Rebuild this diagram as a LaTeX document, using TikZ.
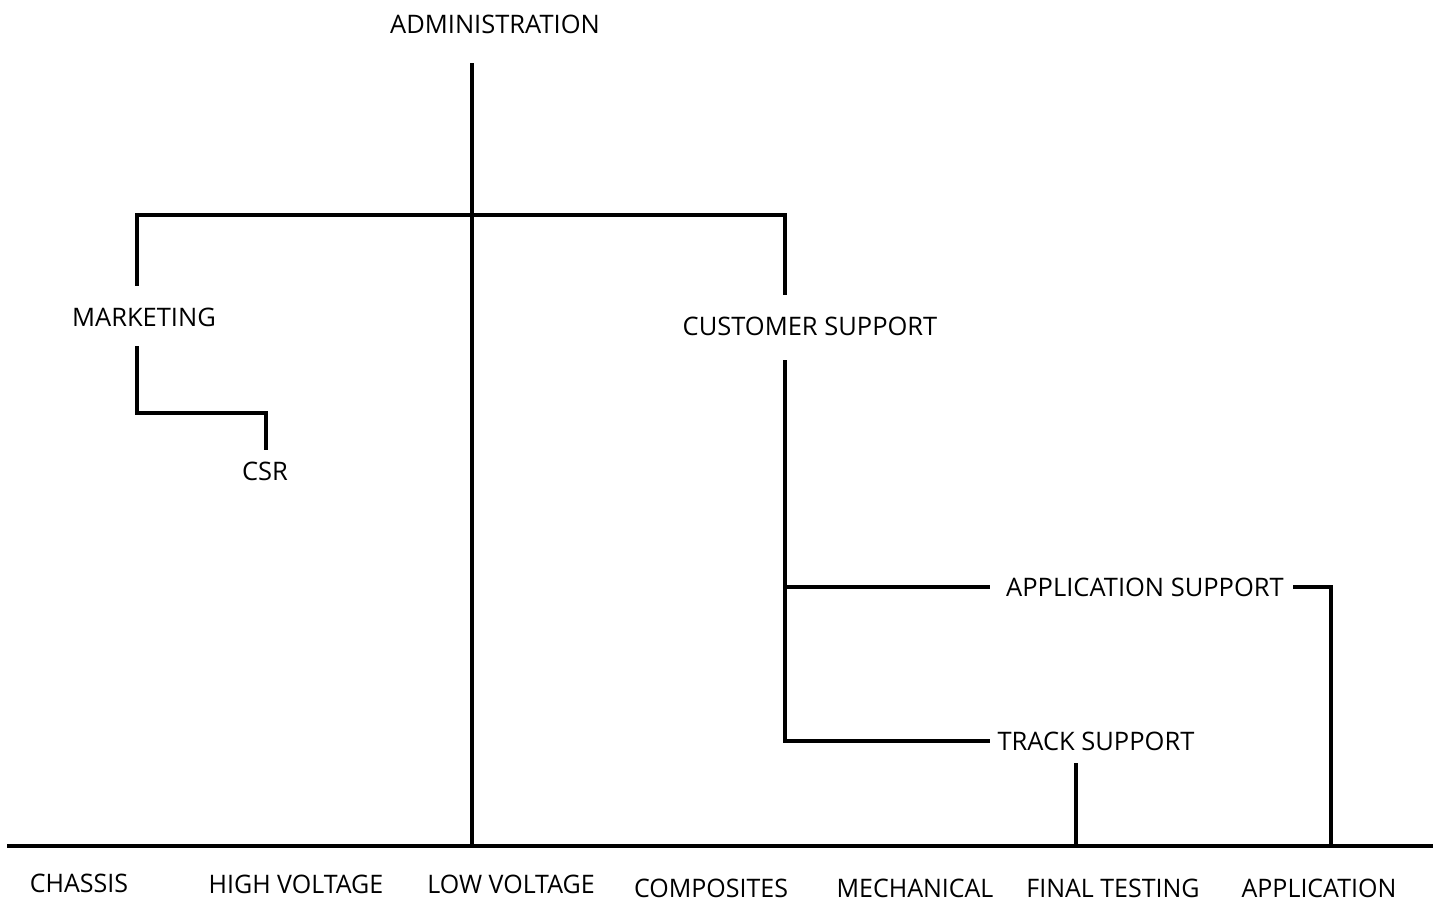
\documentclass[tikz,border=0pt]{standalone}
\usepackage{fontspec}
\setmainfont{Open Sans}
\begin{document}
\begin{tikzpicture}[x=1pt,y=-1pt,
  wire/.style={line width=4pt,line cap=rect},
  lbl/.style={inner sep=0pt,font=\fontsize{25.5}{28}\selectfont},
  blbl/.style={inner sep=0pt,font=\fontsize{25.5}{28}\selectfont,xscale=0.98}]
\useasboundingbox (0,0) rectangle (1440,901);
% labels
\node[lbl] (adm) at (495,24) {ADMINISTRATION};
\node[lbl] (mkt) at (144,317) {MARKETING};
\node[lbl] (csr) at (265,471) {CSR};
\node[lbl] (cs) at (810,326) {CUSTOMER SUPPORT};
\node[lbl] (as) at (1145,587) {APPLICATION SUPPORT};
\node[lbl] (ts) at (1096,741) {TRACK SUPPORT};
\node[blbl] (b1) at (79,883) {CHASSIS};
\node[blbl] (b2) at (296,884) {HIGH VOLTAGE};
\node[blbl] (b3) at (511,884) {LOW VOLTAGE};
\node[blbl] (b4) at (711,888) {COMPOSITES};
\node[blbl] (b5) at (915,888) {MECHANICAL};
\node[blbl] (b6) at (1113,888) {FINAL TESTING};
\node[blbl] (b7) at (1319,888) {APPLICATION};
% coordinates
\coordinate (admtop) at (472,65);
\coordinate (admbot) at (472,846);
\coordinate (hl) at (137,215);
\coordinate (hr) at (785,215);
\coordinate (mktin) at (137,284);
\coordinate (csin) at (785,293);
\coordinate (mktout) at (137,348);
\coordinate (csrin) at (266,448);
\coordinate (csout) at (785,362);
\coordinate (asin) at (988,587);
\coordinate (tsin) at (988,741);
\coordinate (asout) at (1295,587);
\coordinate (apbot) at (1331,846);
\coordinate (tsout) at (1076,765);
\coordinate (ftbot) at (1076,846);
\coordinate (baseL) at (7,846);
\coordinate (baseR) at (1433,846);
% lines
\draw[wire] (admtop) -- (admbot);
\draw[wire] (mktin) -- (hl) -- (hr) -- (csin);
\draw[wire] (mktout) |- (csrin |- 0,413) -- (csrin);
\draw[wire] (csout) |- (tsin);
\draw[wire] (csout |- asin) -- (asin);
\draw[wire] (asout) -| (apbot);
\draw[wire] (tsout) -- (ftbot);
\draw[wire,line cap=butt] (baseL) -- (baseR);
\end{tikzpicture}
\end{document}
